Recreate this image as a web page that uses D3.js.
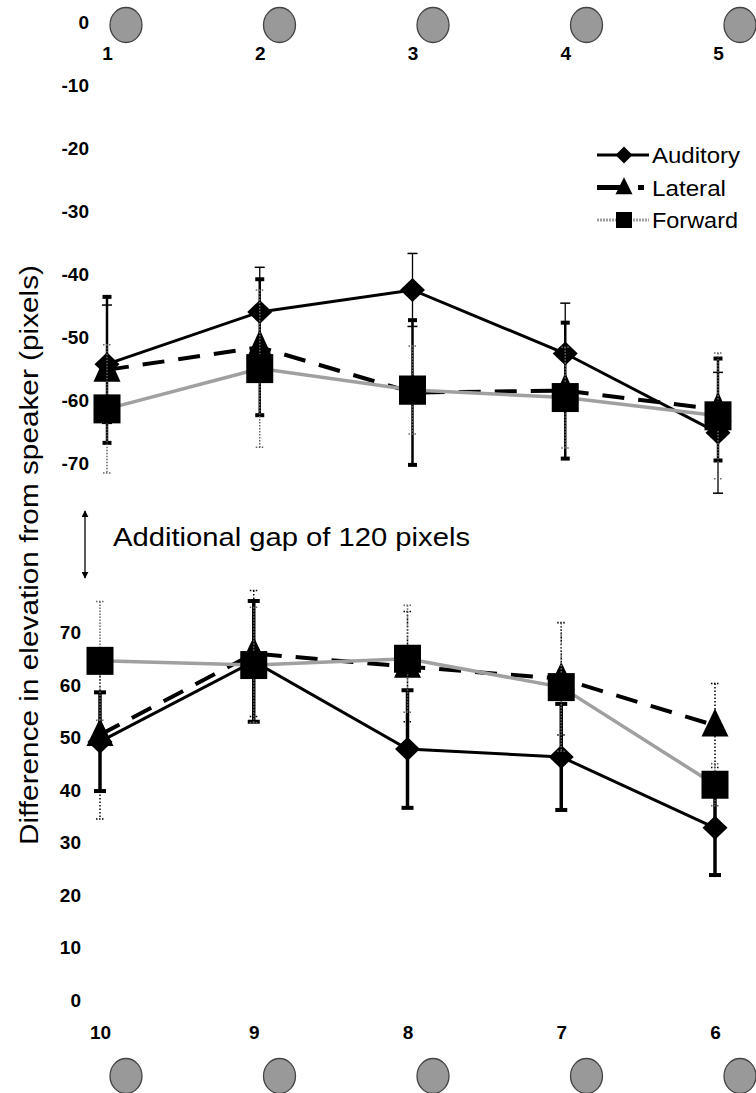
<!DOCTYPE html>
<html><head><meta charset="utf-8">
<script src="https://cdn.jsdelivr.net/npm/d3@7"></script>
<style>body{margin:0;background:#fff} svg{display:block}</style>
</head><body>
<script>
// ---------- data ----------
const seriesNames = ["Auditory", "Lateral", "Forward"];
const topSpeakers = ["1", "2", "3", "4", "5"];
const bottomSpeakers = ["10", "9", "8", "7", "6"];
const topTicks = [0, -10, -20, -30, -40, -50, -60, -70];
const bottomTicks = [70, 60, 50, 40, 30, 20, 10, 0];

const topAuditory    = [-54.3, -46.0, -42.5, -52.6, -65.2];
const topAuditoryErr = [9.4, 7.1, 5.8, 8.0, 9.6];
const topLateral     = [-55.2, -51.6, -58.8, -58.5, -61.5];
const topLateralErr  = [11.6, 10.8, 11.5, 10.8, 8.1];
const topForward     = [-61.4, -55.0, -58.4, -59.6, -62.5];
const topForwardErr  = [10.2, 12.5, 7.0, 8.0, 10.0];

const bottomAuditory    = [49.2, 64.5, 47.8, 46.3, 32.8];
const bottomAuditoryErr = [9.4, 11.5, 11.2, 10.1, 9.0];
const bottomLateral     = [50.5, 66.0, 63.5, 61.2, 52.3];
const bottomLateralErr  = [16.0, 12.0, 10.5, 10.7, 8.0];
const bottomForward     = [64.6, 63.8, 65.0, 59.6, 41.0];
const bottomForwardErr  = [11.3, 11.0, 10.2, 12.2, 4.0];

const gapLabel = "Additional gap of 120 pixels";
const yTitle = "Difference in elevation from speaker (pixels)";

// ---------- setup ----------
const W = 756, H = 1093;
const svg = d3.select("body").append("svg").attr("width", W).attr("height", H)
  .style("font-family", "Arial, 'Liberation Sans', sans-serif");

const xTop = d3.scalePoint().domain(topSpeakers).range([107, 718]);
const xBot = d3.scalePoint().domain(bottomSpeakers).range([100, 715]);
const yTop = d3.scaleLinear().domain([0, -70]).range([22.5, 463]);
const yBot = d3.scaleLinear().domain([0, 70]).range([1000, 632.5]);
const xSpk = d3.scalePoint().domain(d3.range(5)).range([126, 740]);

// speakers (decorative circles)
svg.append("g").selectAll("ellipse").data(d3.range(5)).join("ellipse")
  .attr("cx", d => xSpk(d)).attr("cy", 25).attr("rx", 16).attr("ry", 17.5)
  .attr("fill", "#999").attr("stroke", "#444").attr("stroke-width", 1.3);
svg.append("g").selectAll("ellipse").data(d3.range(5)).join("ellipse")
  .attr("cx", d => xSpk(d)).attr("cy", 1076).attr("rx", 16).attr("ry", 17.5)
  .attr("fill", "#999").attr("stroke", "#444").attr("stroke-width", 1.3);

// axes
function styleAxis(g) {
  g.select(".domain").remove();
  g.selectAll("line").remove();
  g.selectAll("text").attr("font-size", 19).attr("font-weight", "bold")
    .attr("fill", "#000").attr("font-family", "Arial, 'Liberation Sans', sans-serif");
}
const fmt = d => String(d);
svg.append("g").attr("transform", "translate(89,0)")
  .call(d3.axisLeft(yTop).tickValues(topTicks).tickSize(0).tickPadding(0).tickFormat(fmt))
  .call(styleAxis);
svg.append("g").attr("transform", "translate(81,0)")
  .call(d3.axisLeft(yBot).tickValues(bottomTicks).tickSize(0).tickPadding(0).tickFormat(fmt))
  .call(styleAxis);
svg.append("g").attr("transform", "translate(0,46)")
  .call(d3.axisBottom(xTop).tickSize(0).tickPadding(0)).call(styleAxis);
svg.append("g").attr("transform", "translate(0,1025)")
  .call(d3.axisBottom(xBot).tickSize(0).tickPadding(0)).call(styleAxis);

// markers
const shapes = {
  diamond: (w, h) => `M0,${-h/2}L${w/2},0L0,${h/2}L${-w/2},0Z`,
  triangle: (w, h) => `M0,${-h*0.6}L${w/2},${h*0.4}L${-w/2},${h*0.4}Z`,
  square: (w, h) => `M${-w/2},${-h/2}H${w/2}V${h/2}H${-w/2}Z`
};

function drawSeries(g, cats, x, y, vals, errs, st) {
  const data = cats.map((c, i) => ({c, v: vals[i], e: errs[i]}));
  const eg = g.append("g");
  eg.selectAll("line.bar").data(data).join("line")
    .attr("x1", d => x(d.c)).attr("x2", d => x(d.c))
    .attr("y1", d => y(d.v + d.e)).attr("y2", d => y(d.v - d.e))
    .attr("stroke", st.eColor).attr("stroke-width", st.eWidth)
    .attr("stroke-dasharray", st.eDash);
  [1, -1].forEach(s => {
    eg.selectAll(null).data(data).join("line")
      .attr("x1", d => x(d.c) - st.capW / 2).attr("x2", d => x(d.c) + st.capW / 2)
      .attr("y1", d => y(d.v + s * d.e)).attr("y2", d => y(d.v + s * d.e))
      .attr("stroke", st.eColor).attr("stroke-width", st.capT)
      .attr("stroke-dasharray", st.capDash);
  });
  g.append("path").datum(data)
    .attr("d", d3.line().x(d => x(d.c)).y(d => y(d.v)))
    .attr("fill", "none").attr("stroke", st.lColor).attr("stroke-width", st.lWidth)
    .attr("stroke-dasharray", st.lDash);
  g.append("g").selectAll("path").data(data).join("path")
    .attr("transform", d => `translate(${x(d.c)},${y(d.v)})`)
    .attr("d", shapes[st.shape](st.mw, st.mh)).attr("fill", "#000");
}

const gTop = svg.append("g"), gBot = svg.append("g");
// upper panel
drawSeries(gTop, topSpeakers, xTop, yTop, topAuditory, topAuditoryErr,
  {eColor: "#000", eWidth: 1.3, eDash: null, capW: 10, capT: 1.5, capDash: null,
   lColor: "#000", lWidth: 3, lDash: null, shape: "diamond", mw: 25, mh: 24});
drawSeries(gTop, topSpeakers, xTop, yTop, topLateral, topLateralErr,
  {eColor: "#000", eWidth: 2.5, eDash: null, capW: 9, capT: 4, capDash: null,
   lColor: "#000", lWidth: 4, lDash: "22,14", shape: "triangle", mw: 27, mh: 30});
drawSeries(gTop, topSpeakers, xTop, yTop, topForward, topForwardErr,
  {eColor: "#666", eWidth: 1.5, eDash: "1.5,1.5", capW: 8, capT: 1.5, capDash: "1.5,1.5",
   lColor: "#a0a0a0", lWidth: 3.5, lDash: null, shape: "square", mw: 27, mh: 29});
// lower panel
drawSeries(gBot, bottomSpeakers, xBot, yBot, bottomAuditory, bottomAuditoryErr,
  {eColor: "#000", eWidth: 3.5, eDash: null, capW: 12, capT: 4, capDash: null,
   lColor: "#000", lWidth: 3, lDash: null, shape: "diamond", mw: 25, mh: 24});
drawSeries(gBot, bottomSpeakers, xBot, yBot, bottomLateral, bottomLateralErr,
  {eColor: "#000", eWidth: 1.5, eDash: "1.5,2", capW: 8, capT: 1.5, capDash: "1.5,1.5",
   lColor: "#000", lWidth: 4, lDash: "22,14", shape: "triangle", mw: 27, mh: 28});
drawSeries(gBot, bottomSpeakers, xBot, yBot, bottomForward, bottomForwardErr,
  {eColor: "#666", eWidth: 1.5, eDash: "1.5,1.5", capW: 8, capT: 1.5, capDash: "1.5,1.5",
   lColor: "#a0a0a0", lWidth: 3.5, lDash: null, shape: "square", mw: 27, mh: 28});

// legend
const legStyles = [
  {lColor: "#000", lWidth: 3, lDash: null, shape: "diamond", mw: 17, mh: 17},
  {lColor: "#000", lWidth: 5, lDash: "23,18,6,100", shape: "triangle", mw: 17, mh: 17},
  {lColor: "#a0a0a0", lWidth: 3, lDash: "2,1", shape: "square", mw: 16, mh: 16}
];
const legTextLen = [88, 74, 86];
const leg = svg.append("g").selectAll("g").data(seriesNames).join("g")
  .attr("transform", (d, i) => `translate(0,${155 + i * 32.5})`);
leg.append("line").attr("x1", 597).attr("x2", 649).attr("y1", 0).attr("y2", 0)
  .attr("stroke", (d, i) => legStyles[i].lColor).attr("stroke-width", (d, i) => legStyles[i].lWidth)
  .attr("stroke-dasharray", (d, i) => legStyles[i].lDash);
leg.append("path").attr("transform", "translate(624,0)")
  .attr("d", (d, i) => shapes[legStyles[i].shape](legStyles[i].mw, legStyles[i].mh)).attr("fill", "#000");
leg.append("text").attr("x", 652).attr("y", 8).attr("font-size", 22)
  .attr("textLength", (d, i) => legTextLen[i]).attr("lengthAdjust", "spacingAndGlyphs")
  .text(d => d);

// gap annotation
const defs = svg.append("defs");
defs.append("marker").attr("id", "ah").attr("viewBox", "0 0 10 10").attr("refX", 9).attr("refY", 5)
  .attr("markerWidth", 7).attr("markerHeight", 7).attr("markerUnits", "userSpaceOnUse")
  .attr("orient", "auto-start-reverse")
  .append("path").attr("d", "M0,0L10,5L0,10Z").attr("fill", "#000");
svg.append("line").attr("x1", 85).attr("x2", 85).attr("y1", 511).attr("y2", 578)
  .attr("stroke", "#000").attr("stroke-width", 1.3)
  .attr("marker-start", "url(#ah)").attr("marker-end", "url(#ah)");
svg.append("text").attr("x", 113).attr("y", 546).attr("font-size", 26)
  .attr("textLength", 357).attr("lengthAdjust", "spacingAndGlyphs").text(gapLabel);

// y title
svg.append("text").attr("transform", "translate(38,555) rotate(-90)")
  .attr("text-anchor", "middle").attr("font-size", 26)
  .attr("textLength", 580).attr("lengthAdjust", "spacingAndGlyphs").text(yTitle);
</script>
</body></html>
